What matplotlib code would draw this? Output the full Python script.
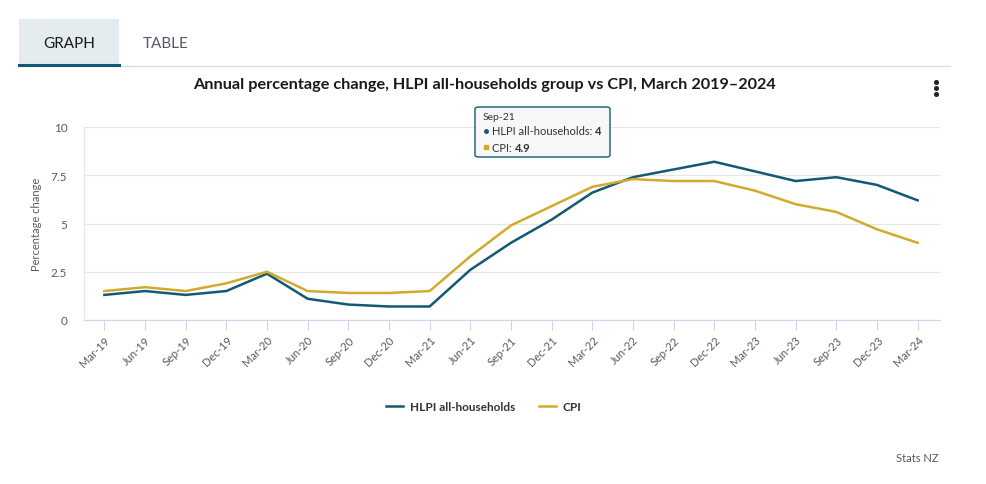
import matplotlib.pyplot as plt
from matplotlib.patches import Rectangle, FancyBboxPatch
from matplotlib.lines import Line2D

plt.rcParams['font.family'] = ['Lato', 'DejaVu Sans']

# --- Data ---
quarters = ['Mar-19', 'Jun-19', 'Sep-19', 'Dec-19', 'Mar-20', 'Jun-20', 'Sep-20',
            'Dec-20', 'Mar-21', 'Jun-21', 'Sep-21', 'Dec-21', 'Mar-22', 'Jun-22',
            'Sep-22', 'Dec-22', 'Mar-23', 'Jun-23', 'Sep-23', 'Dec-23', 'Mar-24']
hlpi = [1.3, 1.5, 1.3, 1.5, 2.4, 1.1, 0.8, 0.7, 0.7, 2.6, 4.0, 5.2, 6.6, 7.4,
        7.8, 8.2, 7.7, 7.2, 7.4, 7.0, 6.2]
cpi = [1.5, 1.7, 1.5, 1.9, 2.5, 1.5, 1.4, 1.4, 1.5, 3.3, 4.9, 5.9, 6.9, 7.3,
       7.2, 7.2, 6.7, 6.0, 5.6, 4.7, 4.0]
y_ticks = [0, 2.5, 5, 7.5, 10]
y_tick_labels = ['0', '2.5', '5', '7.5', '10']

HLPI_COLOR = '#125a73'
CPI_COLOR = '#d2aa2d'
GRID_COLOR = '#e6e6e6'
AXIS_COLOR = '#ccd6eb'
TEXT_GRAY = '#555a66'

W, H = 986, 485
fig = plt.figure(figsize=(W / 100, H / 100), dpi=100)

def fx(px):
    return px / W

def fy(py):
    return 1 - py / H

# --- Tabs ---
fig.patches.append(Rectangle((fx(19), fy(66)), fx(100), 46 / H, transform=fig.transFigure,
                             facecolor='#e4ecef', edgecolor='none'))
fig.add_artist(Line2D([fx(119), fx(950)], [fy(67), fy(67)], color='#dddddd', lw=1))
fig.add_artist(Line2D([fx(19), fx(119)], [fy(66), fy(66)], color='#0f5b74', lw=2.2))
fig.text(fx(69), fy(44), 'GRAPH', ha='center', va='center', fontsize=11, color='#1a1a1a')
fig.text(fx(166), fy(44), 'TABLE', ha='center', va='center', fontsize=11, color='#555a66')

# --- Title and menu ---
fig.text(fx(484), fy(85), 'Annual percentage change, HLPI all-households group vs CPI, March 2019\u20132024',
         ha='center', va='center', fontsize=11.7, fontweight='bold', color='#1a1a1a')
for dy in (83, 89, 95):
    fig.add_artist(Line2D([fx(936)], [fy(dy)], marker='o', markersize=2.6, color='#222222'))

# --- Main chart ---
ax = fig.add_axes([fx(84), fy(321), fx(940) - fx(84), (321 - 128) / H])
x = list(range(len(quarters)))
ax.plot(x, hlpi, color=HLPI_COLOR, lw=1.8, label='HLPI all-households', zorder=3)
ax.plot(x, cpi, color=CPI_COLOR, lw=1.8, label='CPI', zorder=3)

ax.set_xlim(-0.5, 20.55)
ax.set_ylim(0, 10)
ax.set_yticks(y_ticks)
ax.set_yticklabels(y_tick_labels)
ax.set_xticks(x)
ax.set_xticklabels(quarters, rotation=45, ha='right', rotation_mode='anchor')
ax.tick_params(axis='x', length=7, color=AXIS_COLOR, labelsize=8, labelcolor=TEXT_GRAY, pad=3)
ax.tick_params(axis='y', length=0, labelsize=8.5, labelcolor=TEXT_GRAY, pad=12)
ax.grid(axis='y', color=GRID_COLOR, lw=0.9)
ax.set_axisbelow(True)
for side in ('top', 'right'):
    ax.spines[side].set_visible(False)
ax.spines['left'].set_color(GRID_COLOR)
ax.spines['bottom'].set_color(AXIS_COLOR)
ax.set_ylabel('Percentage change', fontsize=8, color=TEXT_GRAY, labelpad=6)

# --- Tooltip at Sep-21 ---
tip = FancyBboxPatch((fx(475), fy(158)), fx(135), 50 / H, transform=fig.transFigure,
                     boxstyle='round,pad=0,rounding_size=0.004', facecolor='#f7f7f7',
                     edgecolor=HLPI_COLOR, lw=1, zorder=10)
fig.patches.append(tip)
fig.text(fx(483), fy(117), quarters[10], fontsize=7.5, color='#333333', va='center', zorder=11)
fig.add_artist(Line2D([fx(486)], [fy(132)], marker='o', markersize=2.5, color=HLPI_COLOR, zorder=11))
t1 = fig.text(fx(492), fy(132), 'HLPI all-households: ', fontsize=8, color='#333333', va='center', zorder=11)
fig.add_artist(plt.Annotation(f'{hlpi[10]:g}', xy=(1, 0.5), xycoords=t1, va='center', ha='left',
                              fontsize=8, fontweight='bold', color='#333333', zorder=11))
fig.add_artist(Line2D([fx(486)], [fy(148)], marker='s', markersize=2.5, color=CPI_COLOR, zorder=11))
t2 = fig.text(fx(492), fy(148), 'CPI: ', fontsize=8, color='#333333', va='center', zorder=11)
fig.add_artist(plt.Annotation(f'{cpi[10]:g}', xy=(1, 0.5), xycoords=t2, va='center', ha='left',
                              fontsize=8, fontweight='bold', color='#333333', zorder=11))

# --- Legend ---
leg = fig.legend(loc='center', bbox_to_anchor=(fx(484), fy(408)), ncol=2, frameon=False,
                 fontsize=8.5, handlelength=1.4, columnspacing=2.0, handletextpad=0.6)
for t in leg.get_texts():
    t.set_fontweight('bold')
    t.set_color('#333333')

fig.text(fx(939), fy(459), 'Stats NZ', ha='right', va='center', fontsize=8, color=TEXT_GRAY)

fig.savefig('out.png', dpi=100)
